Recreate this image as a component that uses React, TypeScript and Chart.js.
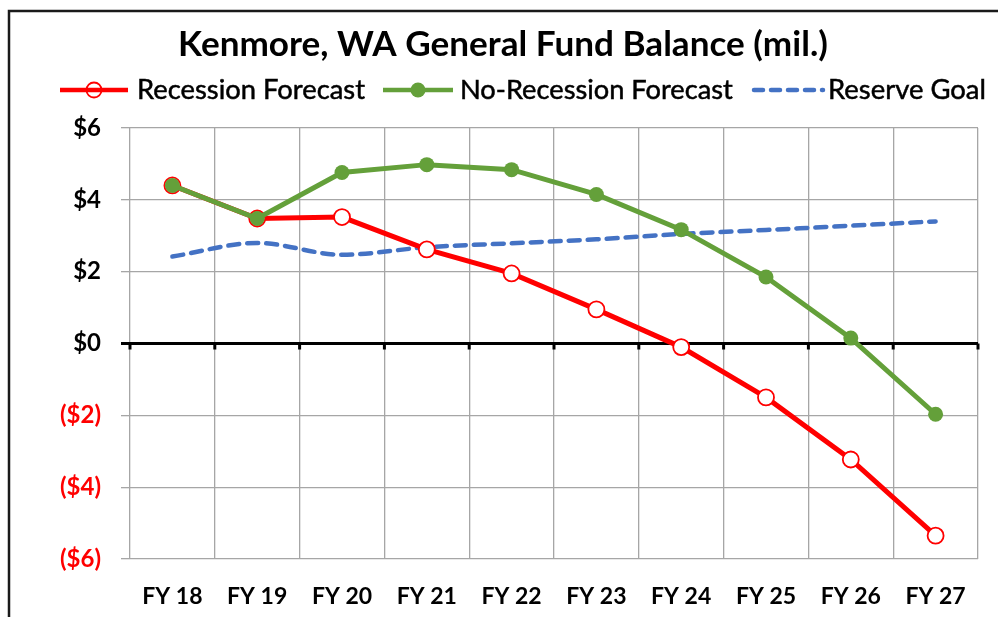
import React, { useEffect, useRef } from "react";
import { Chart, registerables } from "chart.js";

Chart.register(...registerables);

const categories = ["FY 18", "FY 19", "FY 20", "FY 21", "FY 22", "FY 23", "FY 24", "FY 25", "FY 26", "FY 27"];
const recession = [4.4, 3.48, 3.52, 2.62, 1.95, 0.95, -0.1, -1.5, -3.23, -5.35];
const noRecession = [4.4, 3.48, 4.76, 4.98, 4.84, 4.15, 3.17, 1.85, 0.15, -1.97];
const reserveGoal = [2.42, 2.8, 2.47, 2.68, 2.79, 2.9, 3.05, 3.16, 3.28, 3.4];
const titleText = "Kenmore, WA General Fund Balance (mil.)";
const seriesNames = ["Recession Forecast", "No-Recession Forecast", "Reserve Goal"];

const RED = "#ff0000";
const GREEN = "#64a03a";
const BLUE = "#4472c4";
const GRID = "#a6a6a6";
const FONT = "Lato, 'Open Sans', sans-serif";

function fitFont(ctx: CanvasRenderingContext2D, text: string, weight: string, target: number) {
  ctx.font = `${weight} 100px ${FONT}`;
  const w = ctx.measureText(text).width;
  return (100 * target) / w;
}

const decorPlugin = {
  id: "decor",
  beforeDraw(chart: any) {
    const ctx = chart.ctx as CanvasRenderingContext2D;
    ctx.save();
    ctx.fillStyle = "#ffffff";
    ctx.fillRect(0, 0, chart.width, chart.height);
    ctx.strokeStyle = "#1a1a1a";
    ctx.lineWidth = 2.5;
    ctx.strokeRect(9, 11, 1200, 1000);
    ctx.restore();
  },
  beforeDatasetsDraw(chart: any) {
    const ctx = chart.ctx as CanvasRenderingContext2D;
    const y = chart.scales.y;
    const y0 = y.getPixelForValue(0);
    ctx.save();
    ctx.strokeStyle = "#000";
    ctx.lineWidth = 3;
    const step = (chart.chartArea.right - chart.chartArea.left) / categories.length;
    for (let i = 0; i <= categories.length; i++) {
      const px = chart.chartArea.left + i * step;
      ctx.beginPath();
      ctx.moveTo(px, y0);
      ctx.lineTo(px, y0 + 6);
      ctx.stroke();
    }
    ctx.restore();
  },
  afterDraw(chart: any) {
    const ctx = chart.ctx as CanvasRenderingContext2D;
    ctx.save();
    // Title
    const ts = fitFont(ctx, titleText, "bold", 650);
    ctx.font = `bold ${ts}px ${FONT}`;
    ctx.fillStyle = "#000";
    ctx.textAlign = "center";
    ctx.textBaseline = "alphabetic";
    ctx.fillText(titleText, 503, 56);

    // Legend
    const ly = 90;
    const items = [
      { x0: 60, x1: 128, tx: 137, w: 228, type: "open", color: RED },
      { x0: 383, x1: 453, tx: 460, w: 273, type: "filled", color: GREEN },
      { x0: 752, x1: 823, tx: 828, w: 158, type: "dash", color: BLUE },
    ];
    items.forEach((it, i) => {
      ctx.strokeStyle = it.color;
      ctx.lineCap = it.type === "dash" ? "round" : "butt";
      ctx.lineWidth = it.type === "dash" ? 4.5 : 4.5;
      ctx.setLineDash(it.type === "dash" ? [9, 8] : []);
      ctx.beginPath();
      ctx.moveTo(it.x0 + (it.type === "dash" ? 2 : 0), ly);
      ctx.lineTo(it.x1, ly);
      ctx.stroke();
      ctx.setLineDash([]);
      const cx = (it.x0 + it.x1) / 2;
      if (it.type === "open") {
        ctx.lineWidth = 1.8;
        ctx.beginPath();
        ctx.arc(cx, ly, 7.5, 0, Math.PI * 2);
        ctx.stroke();
      } else if (it.type === "filled") {
        ctx.fillStyle = it.color;
        ctx.beginPath();
        ctx.arc(cx, ly, 7.5, 0, Math.PI * 2);
        ctx.fill();
      }
      const fs = fitFont(ctx, seriesNames[i], "normal", it.w);
      ctx.font = `normal ${fs}px ${FONT}`;
      ctx.fillStyle = "#000";
      ctx.strokeStyle = "#000";
      ctx.lineWidth = 0.5;
      ctx.textAlign = "left";
      ctx.textBaseline = "alphabetic";
      ctx.fillText(seriesNames[i], it.tx, 99);
      ctx.strokeText(seriesNames[i], it.tx, 99);
    });
    ctx.restore();
  },
};

export default function App() {
  const ref = useRef<HTMLCanvasElement>(null);
  useEffect(() => {
    if (!ref.current) return;
    const chart = new Chart(ref.current, {
      type: "line",
      data: {
        labels: categories,
        datasets: [
          {
            label: seriesNames[0],
            data: recession,
            borderColor: RED,
            backgroundColor: "#ffffff",
            borderWidth: 5,
            pointRadius: 8,
            pointBorderWidth: 1.8,
            pointBorderColor: RED,
            pointBackgroundColor: "#ffffff",
            order: 1,
          },
          {
            label: seriesNames[1],
            data: noRecession,
            borderColor: GREEN,
            backgroundColor: GREEN,
            borderWidth: 5,
            pointRadius: 7.5,
            pointBorderWidth: 0,
            pointBackgroundColor: GREEN,
            order: 0,
          },
          {
            label: seriesNames[2],
            data: reserveGoal,
            borderColor: BLUE,
            borderWidth: 4.5,
            borderDash: [11, 8],
            borderCapStyle: "round",
            pointRadius: 0,
            cubicInterpolationMode: "monotone",
            order: 2,
          },
        ],
      },
      options: {
        responsive: false,
        animation: false,
        layout: { padding: { top: 128, left: 0, right: 20, bottom: 0 } },
        plugins: {
          legend: { display: false },
          title: { display: false },
          tooltip: { enabled: false },
        },
        scales: {
          x: {
            type: "category",
            offset: true,
            grid: {
              offset: true,
              color: GRID,
              lineWidth: 1.3,
              drawTicks: false,
            },
            border: { display: false },
            ticks: {
              color: "#000",
              font: { family: FONT, size: 23, weight: "bold" },
              padding: 24,
              maxRotation: 0,
              autoSkip: false,
            },
            afterFit: (s: any) => {
              s.height = 58;
            },
          },
          y: {
            min: -6,
            max: 6,
            grid: {
              color: (c: any) => (c.tick && c.tick.value === 0 ? "#000" : GRID),
              lineWidth: (c: any) => (c.tick && c.tick.value === 0 ? 3 : 1.3),
              tickLength: 9,
            },
            border: { display: false },
            ticks: {
              stepSize: 2,
              padding: 20,
              font: { family: FONT, size: 24, weight: "bold" },
              color: (c: any) => (c.tick && c.tick.value < 0 ? RED : "#000"),
              callback: (v: any) => (v < 0 ? `($${-v})` : `$${v}`),
            },
            afterFit: (s: any) => {
              s.width = 130;
            },
          },
        },
      },
      plugins: [decorPlugin],
    } as any);
    return () => chart.destroy();
  }, []);
  return (
    <div style={{ position: "absolute", left: 0, top: 0, width: 998, height: 617 }}>
      <canvas ref={ref} width={998} height={617} style={{ width: 998, height: 617, display: "block" }} />
    </div>
  );
}
